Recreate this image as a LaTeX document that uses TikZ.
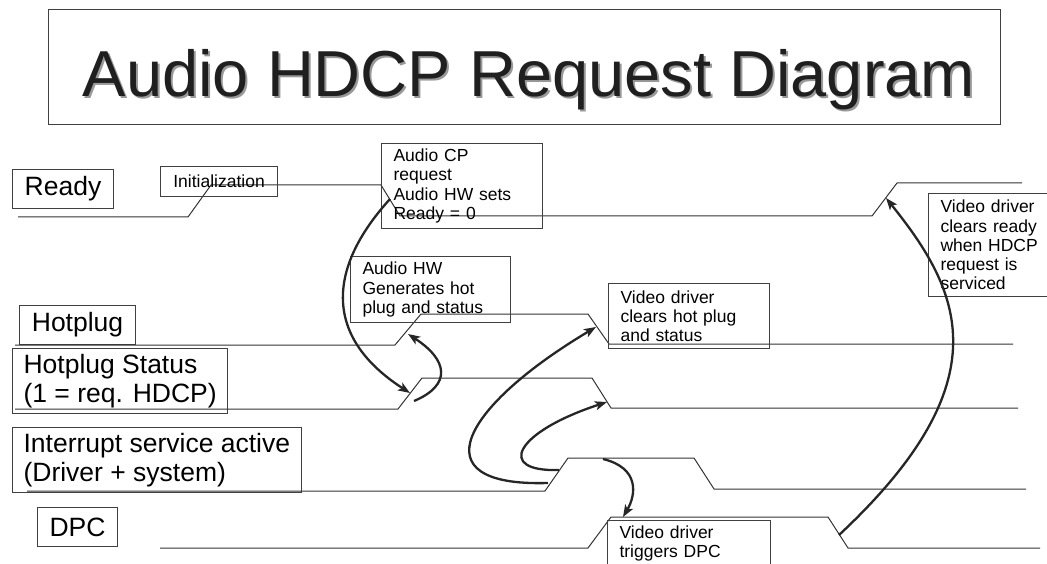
\documentclass[tikz,border=0pt]{standalone}
\usepackage{fontspec}
\setmainfont{Liberation Sans}
\usetikzlibrary{arrows.meta}
\tikzset{
  lbl/.style={draw=black!75, line width=1.1pt, anchor=north west, align=left,
    inner xsep=11pt, inner ysep=6pt, minimum height=39pt, font=\fontsize{26.5}{28.5}\selectfont},
  note/.style={draw=black!75, line width=1.1pt, anchor=north west, align=left,
    inner xsep=12pt, inner ysep=4pt, font=\fontsize{17.5}{19.3}\selectfont},
  sig/.style={line width=1pt, draw=black!80},
  arr/.style={-{Stealth[length=12pt, width=9pt, inset=3pt]}, line width=2.3pt, draw=black!85},
}

\begin{document}
\begin{tikzpicture}[x=1pt, y=-1pt]
  \useasboundingbox (0,0) rectangle (1047,564);
  \clip (0,0) rectangle (1047,564);

  % title
  \node[draw=black!75, line width=1.1pt, anchor=north west, minimum width=952, minimum height=115] (titlebox) at (48,9) {};
  \node[anchor=base, text=black!40, font=\fontsize{65}{70}\selectfont] (titleshade) at (531,99) {Audio HDCP Request Diagram};
  \node[anchor=base, text=black!88, font=\fontsize{65}{70}\selectfont] (title) at (529,97) {Audio HDCP Request Diagram};

  % signal names
  \node[lbl, minimum width=101] (ready) at (12,169) {Ready};
  \node[lbl, minimum width=116] (hotplug) at (19,305) {Hotplug};
  \node[lbl] (hpstatus) at (12,348) {Hotplug Status\\(1 = req. HDCP)};
  \node[lbl] (intsvc) at (12,427) {Interrupt service active\\(Driver + system)};
  \node[lbl, minimum width=80] (dpc) at (37,507) {DPC};

  % waveforms
  \draw[sig] (18,217) -- (188,217) -- (211,185) -- (381,185) -- (400,216) -- (872,216) -- (897,183) -- (1022,183);
  \draw[sig] (15,345) -- (395,345) -- (421,314) -- (588,314) -- (609,344) -- (1013,344);
  \draw[sig] (15,409) -- (398,409) -- (422,378) -- (592,378) -- (611,408) -- (1018,408);
  \draw[sig] (27,491) -- (545,491) -- (568,458) -- (694,458) -- (714,489) -- (1026,489);
  \draw[sig] (160,548) -- (588,548) -- (611,517) -- (828,517) -- (848,548) -- (1040,548);

  % notes
  \node[note, minimum width=117, minimum height=30] (init) at (160,166) {Initialization};
  \node[note, text width=137, minimum height=85] (audiocp) at (381,143) {Audio CP\\request\\Audio HW sets\\Ready = 0};
  \node[note, text width=136, minimum height=66] (audiohw) at (350,256) {Audio HW\\Generates hot\\plug and status};
  \node[note, text width=137, minimum height=65] (vdhotplug) at (608,283) {Video driver\\clears hot plug\\and status};
  \node[note, text width=100, minimum height=103] (vdready) at (928,193) {Video driver\\clears ready\\when HDCP\\request is\\serviced};
  \node[note, text width=139, minimum height=46] (vddpc) at (607,520) {Video driver\\triggers DPC};

  % edges the arrows start and end on
  \coordinate (rdyFall) at (390,199);
  \coordinate (rdyRise) at (886,198);
  \coordinate (hpRise) at (408,334);
  \coordinate (hpFall) at (596,327);
  \coordinate (hpsRise) at (410,393);
  \coordinate (hpsOut) at (414,401);
  \coordinate (hpsFall) at (607,402);
  \coordinate (intRiseA) at (548,483);
  \coordinate (intRiseB) at (559,470);
  \coordinate (intHigh) at (603,459);
  \coordinate (dpcHigh) at (623,517);
  \coordinate (dpcFall) at (839,535);

  \draw[arr] (rdyFall) .. controls (330,265) and (320,335) .. (hpsRise);
  \draw[arr] (hpsOut) .. controls (452,385) and (448,360) .. (hpRise);
  \draw[arr] (intRiseA) .. controls (415,487) and (465,405) .. (hpFall);
  \draw[arr] (intRiseB) .. controls (495,472) and (515,432) .. (hpsFall);
  \draw[arr] (intHigh) .. controls (640,468) and (636,495) .. (dpcHigh);
  \draw[arr] (dpcFall) .. controls (1005,380) and (960,290) .. (rdyRise);
\end{tikzpicture}
\end{document}
